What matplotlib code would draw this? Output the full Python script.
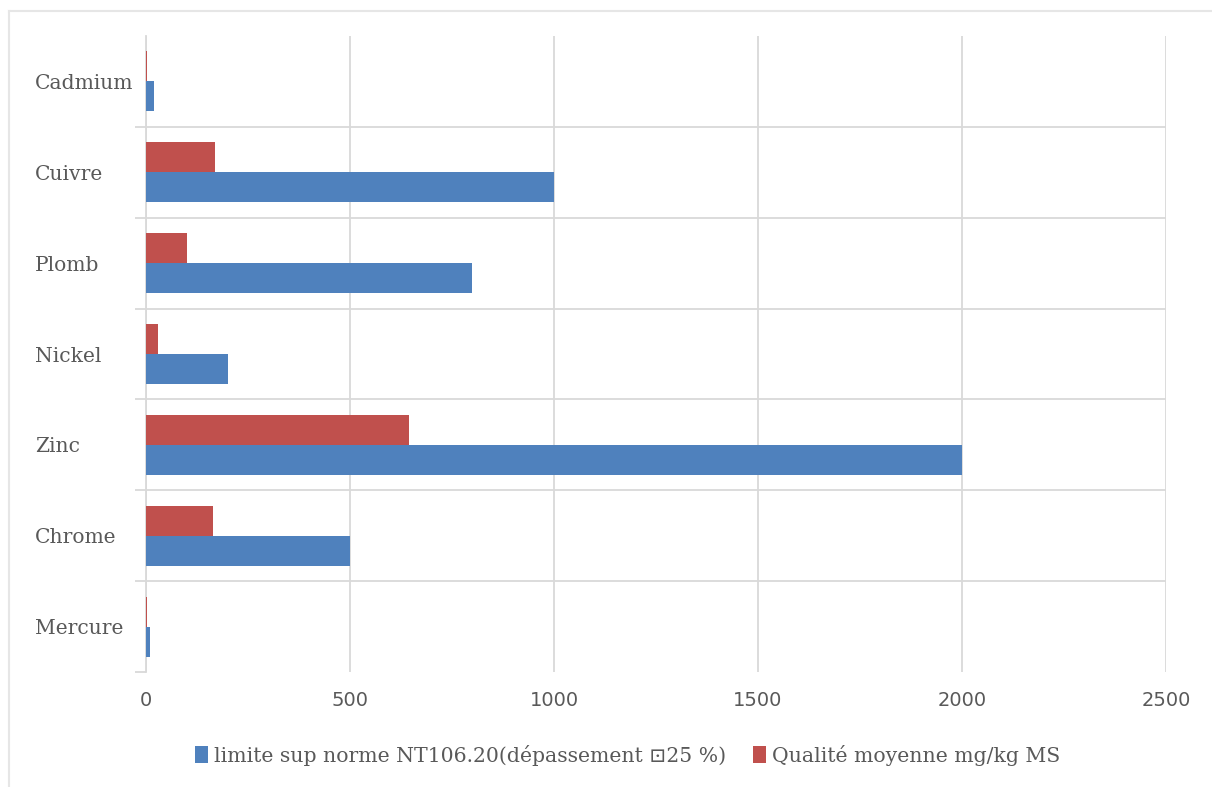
import matplotlib
matplotlib.use("Agg")
import matplotlib.pyplot as plt
from matplotlib.lines import Line2D
import numpy as np

# donnees (mg/kg MS)
metaux = ["Cadmium", "Cuivre", "Plomb", "Nickel", "Zinc", "Chrome", "Mercure"]
limite_sup = [20, 1000, 800, 200, 2000, 500, 10]
qualite_moy = [3, 170, 100, 30, 645, 165, 1.5]

lbl_limite = "limite sup norme NT106.20(dépassement \u22a125 %)"
lbl_qualite = "Qualité moyenne mg/kg MS"

bleu = "#4F81BD"
rouge = "#C0504D"
gris_grille = "#d9d9d9"
gris_texte = "#595959"

serif = ["DejaVu Serif", "DejaVu Sans"]

fig = plt.figure(figsize=(12.12, 7.87), dpi=100)
ax = fig.add_axes([146 / 1212, 1 - 672 / 787, 1020 / 1212, 636 / 787])

y = np.arange(len(metaux))
h = 0.33
ax.barh(y - h / 2, qualite_moy, height=h, color=rouge, label=lbl_qualite, zorder=3)
ax.barh(y + h / 2, limite_sup, height=h, color=bleu, label=lbl_limite, zorder=3)

ax.set_xlim(0, 2500)
ax.set_ylim(len(metaux) - 0.5, -0.5)
ax.set_xticks(np.arange(0, 2501, 500))
ax.xaxis.grid(True, color=gris_grille, lw=1.3, zorder=0)
ax.tick_params(axis="x", length=0, pad=14, labelsize=14, labelcolor=gris_texte)

# etiquettes alignees a gauche (pad en points : 111 px ~ 80 pt)
ax.set_yticks(y)
ax.set_yticklabels(metaux, ha="left", family=serif, fontsize=14.6, color=gris_texte)
ax.tick_params(axis="y", which="major", length=0, pad=80)
# separateurs entre categories
ax.set_yticks(np.arange(0.5, len(metaux)), minor=True)
ax.tick_params(axis="y", which="minor", length=8, width=1.3, color=gris_grille)
ax.hlines(np.arange(0.5, len(metaux) - 1), 0, 2500, color=gris_grille, lw=1.3, zorder=0)

for s in ["top", "right", "bottom"]:
    ax.spines[s].set_visible(False)
ax.spines["left"].set_color(gris_grille)
ax.spines["left"].set_linewidth(1.3)

handles, labels = ax.get_legend_handles_labels()
leg = fig.legend(handles[::-1], labels[::-1], loc="center", ncol=2,
                 bbox_to_anchor=(0.518, 1 - 755 / 787), frameon=False,
                 prop={"family": serif, "size": 14.7}, handlelength=0.65,
                 handleheight=0.9, handletextpad=0.3, columnspacing=1.3)
for t in leg.get_texts():
    t.set_color(gris_texte)

# cadre autour du graphique
x0, y0 = 9 / 1212, 1 - 11 / 787
fig.add_artist(Line2D([x0, x0], [0, y0], color="#e6e6e6", lw=1.5))
fig.add_artist(Line2D([x0, 1], [y0, y0], color="#e6e6e6", lw=1.5))

fig.savefig("out.png", dpi=100)
